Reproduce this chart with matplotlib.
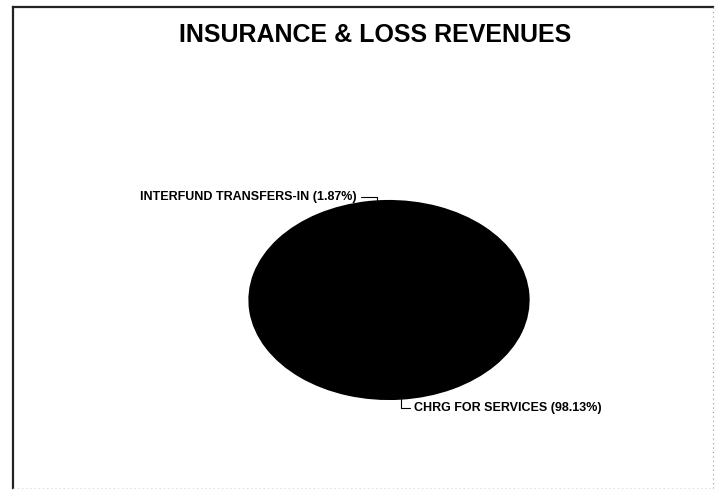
import matplotlib
matplotlib.use("Agg")
import matplotlib.pyplot as plt
import numpy as np
from matplotlib.lines import Line2D

# data
labels = ['INTERFUND TRANSFERS-IN', 'CHRG FOR SERVICES']
shares = [1.87, 98.13]
title = 'INSURANCE & LOSS REVENUES'

plt.rcParams['font.family'] = ['Liberation Sans', 'DejaVu Sans']

fig = plt.figure(figsize=(7.18, 4.9), dpi=100)
W, H = 718, 490

def fx(px):
    return px / W

def fy(py):
    return 1 - py / H

# frame like the scanned page
fig.add_artist(Line2D([fx(13), fx(13)], [fy(7), fy(488)], color='#222222', lw=1.6))
fig.add_artist(Line2D([fx(13), fx(713)], [fy(7), fy(7)], color='#222222', lw=1.6))
fig.add_artist(Line2D([fx(713), fx(713)], [fy(7), fy(488)], color='#999999', lw=0.8, ls=(0, (1, 3))))
fig.add_artist(Line2D([fx(13), fx(713)], [fy(488), fy(488)], color='#dddddd', lw=0.6, ls=(0, (2, 3))))

fig.text(fx(375), fy(35), title, ha='center', va='center',
         fontsize=18, fontweight='bold')

# pie squashed into an ellipse by the axes shape
ax = fig.add_axes([fx(248), fy(400), fx(530) - fx(248), (400 - 200) / H])
wedges, _ = ax.pie(shares, startangle=91.5, counterclock=True,
                   colors=['black', 'black'],
                   wedgeprops=dict(edgecolor='black', linewidth=1.5))
ax.set_aspect('auto')
ax.set_xlim(-1.01, 1.01)
ax.set_ylim(-1.01, 1.01)
ax.axis('off')

text_pos = [(fx(357), fy(197), 'right'), (fx(414), fy(408), 'left')]
for w, lab, val, (tx, ty, ha) in zip(wedges, labels, shares, text_pos):
    ang = np.deg2rad((w.theta1 + w.theta2) / 2)
    x, y = np.cos(ang), np.sin(ang)
    ax.annotate('%s (%.2f%%)' % (lab, val), xy=(x, y), xycoords='data',
                xytext=(tx, ty), textcoords='figure fraction',
                ha=ha, va='center', fontsize=9, fontweight='bold',
                arrowprops=dict(arrowstyle='-', color='black', lw=0.8,
                                connectionstyle='angle,angleA=0,angleB=90,rad=0',
                                shrinkA=1, shrinkB=0))

plt.savefig('out.png', dpi=100)
